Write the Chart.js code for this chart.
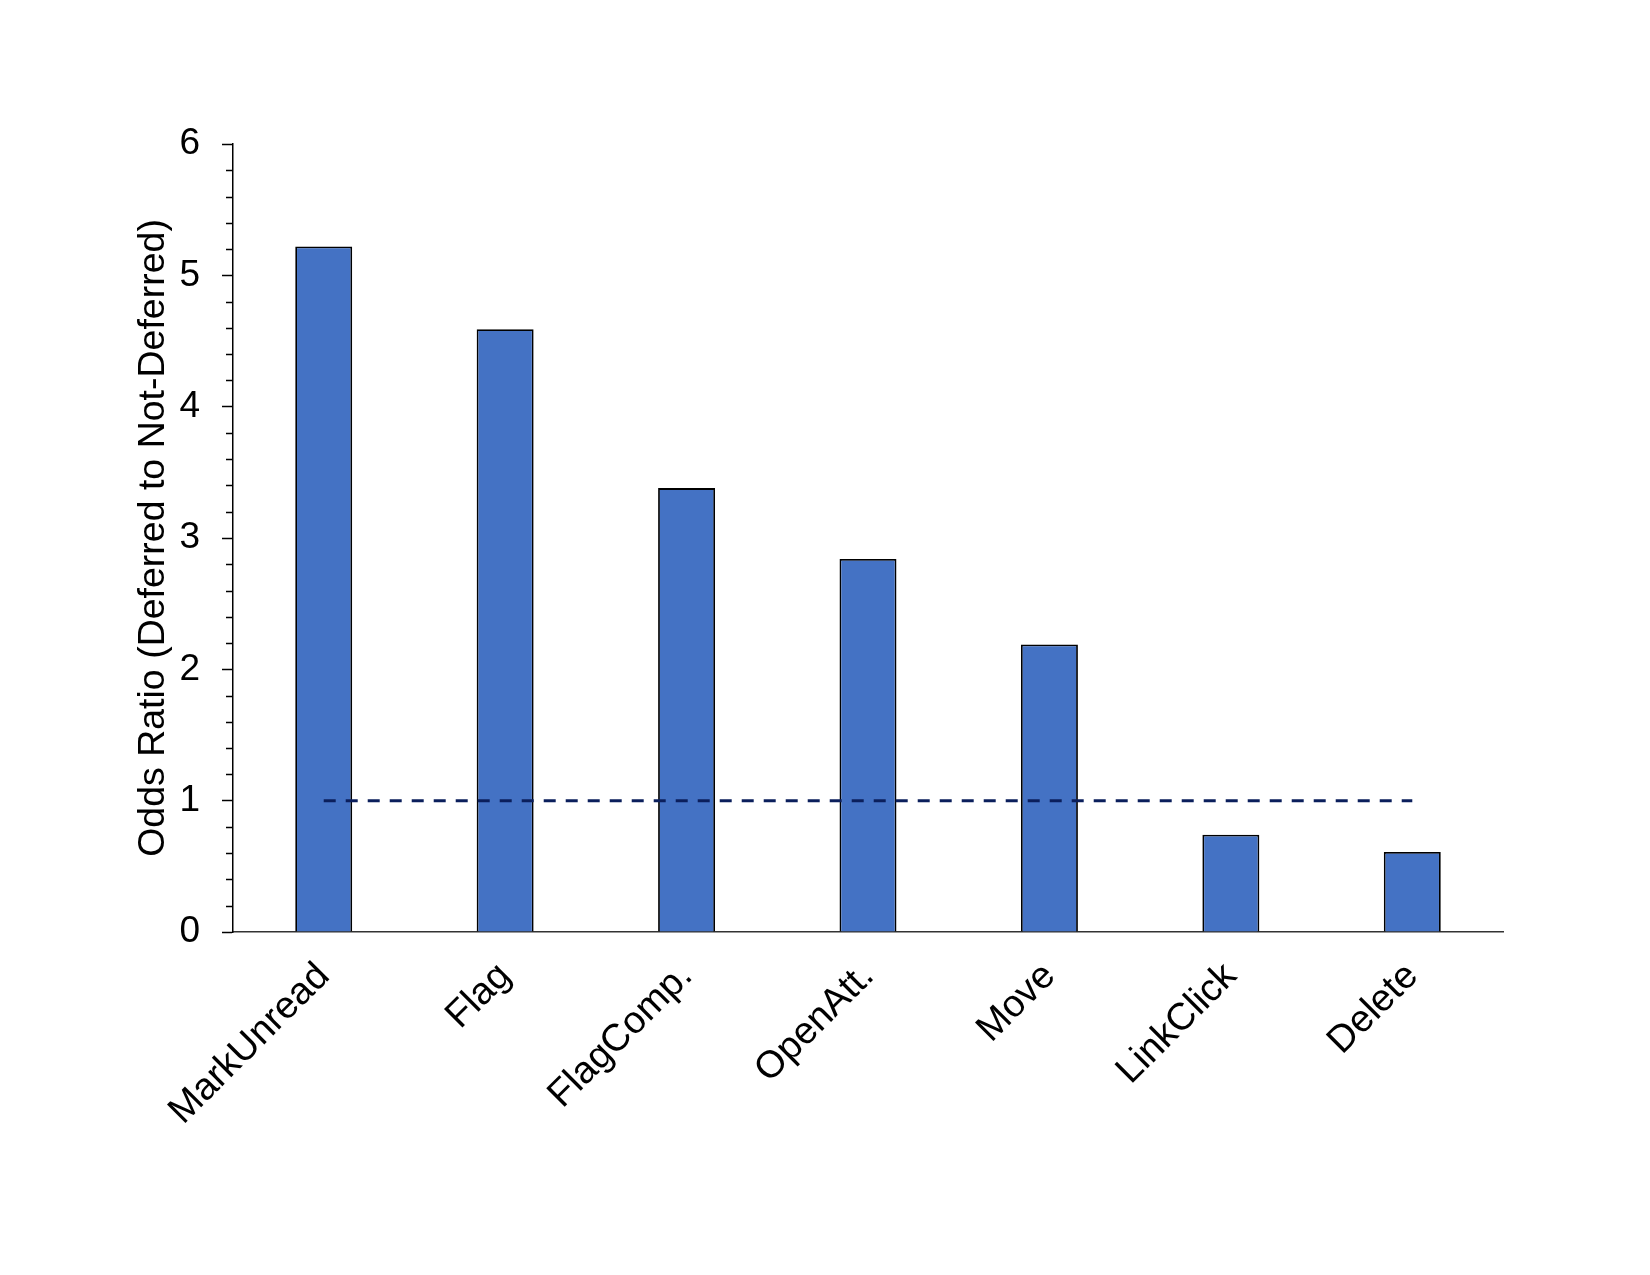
<!DOCTYPE html>
<html>
<head>
<meta charset="utf-8">
<script src="https://cdn.jsdelivr.net/npm/chart.js@4"></script>
<style>
  html, body { margin: 0; padding: 0; background: #fff; }
  #wrap { width: 1650px; height: 1275px; }
</style>
</head>
<body>
<div id="wrap"><canvas id="chart" width="1650" height="1275"></canvas></div>
<script>
// categories and odds ratios
const actions = ['MarkUnread', 'Flag', 'FlagComp.', 'OpenAtt.', 'Move', 'LinkClick', 'Delete'];
const oddsRatios = [5.22, 4.59, 3.38, 2.84, 2.19, 0.74, 0.61];
const baseline = [1, 1, 1, 1, 1, 1, 1];
const yTicks = [0, 1, 2, 3, 4, 5, 6];
const yMinorStep = 0.2;

// small minor tick marks between the integer ticks
const minorTicks = {
    id: 'minorTicks',
    afterDraw(chart) {
        const y = chart.scales.y;
        const ctx = chart.ctx;
        const x0 = chart.chartArea.left;
        ctx.save();
        ctx.strokeStyle = '#000';
        ctx.lineWidth = 1.5;
        ctx.beginPath();
        for (let v = yTicks[0]; v <= yTicks[yTicks.length - 1] + 1e-9; v += yMinorStep) {
            if (Math.abs(v - Math.round(v)) < 1e-6) continue;
            const py = Math.round(y.getPixelForValue(v)) + 0.5;
            ctx.moveTo(x0 - 7, py);
            ctx.lineTo(x0, py);
        }
        ctx.stroke();
        ctx.restore();
    }
};

const family = '"Liberation Sans", Arial, Helvetica, sans-serif';

new Chart(document.getElementById('chart'), {
    data: {
        labels: actions,
        datasets: [
            {
                type: 'line',
                data: baseline,
                borderColor: '#0b1f5c',
                borderWidth: 3,
                borderDash: [12, 10],
                pointRadius: 0,
                fill: false,
                order: 0
            },
            {
                type: 'bar',
                data: oddsRatios,
                backgroundColor: '#4472C4',
                borderColor: '#000',
                borderWidth: 1.8,
                barPercentage: 0.314,
                categoryPercentage: 1,
                order: 1
            }
        ]
    },
    options: {
        responsive: false,
        animation: false,
        layout: { padding: { top: 144, right: 147, bottom: 0, left: 0 } },
        plugins: {
            legend: { display: false },
            tooltip: { enabled: false }
        },
        scales: {
            x: {
                grid: { display: false, drawTicks: false },
                border: { display: true, color: '#333', width: 1.5 },
                ticks: {
                    color: '#000',
                    font: { family: family, size: 38 },
                    minRotation: 45,
                    maxRotation: 45,
                    padding: 22,
                    autoSkip: false
                },
                afterFit(scale) {
                    scale.height = 343;
                    scale.paddingLeft = 0;
                    scale.paddingRight = 0;
                }
            },
            y: {
                min: 0,
                max: 6,
                afterBuildTicks(scale) {
                    scale.ticks = yTicks.map(v => ({ value: v }));
                },
                grid: {
                    drawOnChartArea: false,
                    drawTicks: true,
                    tickLength: 11,
                    tickWidth: 1.5,
                    tickColor: '#000'
                },
                border: { display: true, color: '#000', width: 1.5 },
                ticks: {
                    color: '#000',
                    font: { family: family, size: 37 },
                    padding: 22
                },
                title: {
                    display: true,
                    text: 'Odds Ratio (Deferred to Not-Deferred)',
                    color: '#000',
                    font: { family: family, size: 37.5 },
                    padding: { top: 131, bottom: 0 }
                },
                afterFit(scale) {
                    scale.width = 233;
                    scale.paddingTop = 0;
                    scale.paddingBottom = 0;
                }
            }
        }
    },
    plugins: [minorTicks]
});
</script>
</body>
</html>
